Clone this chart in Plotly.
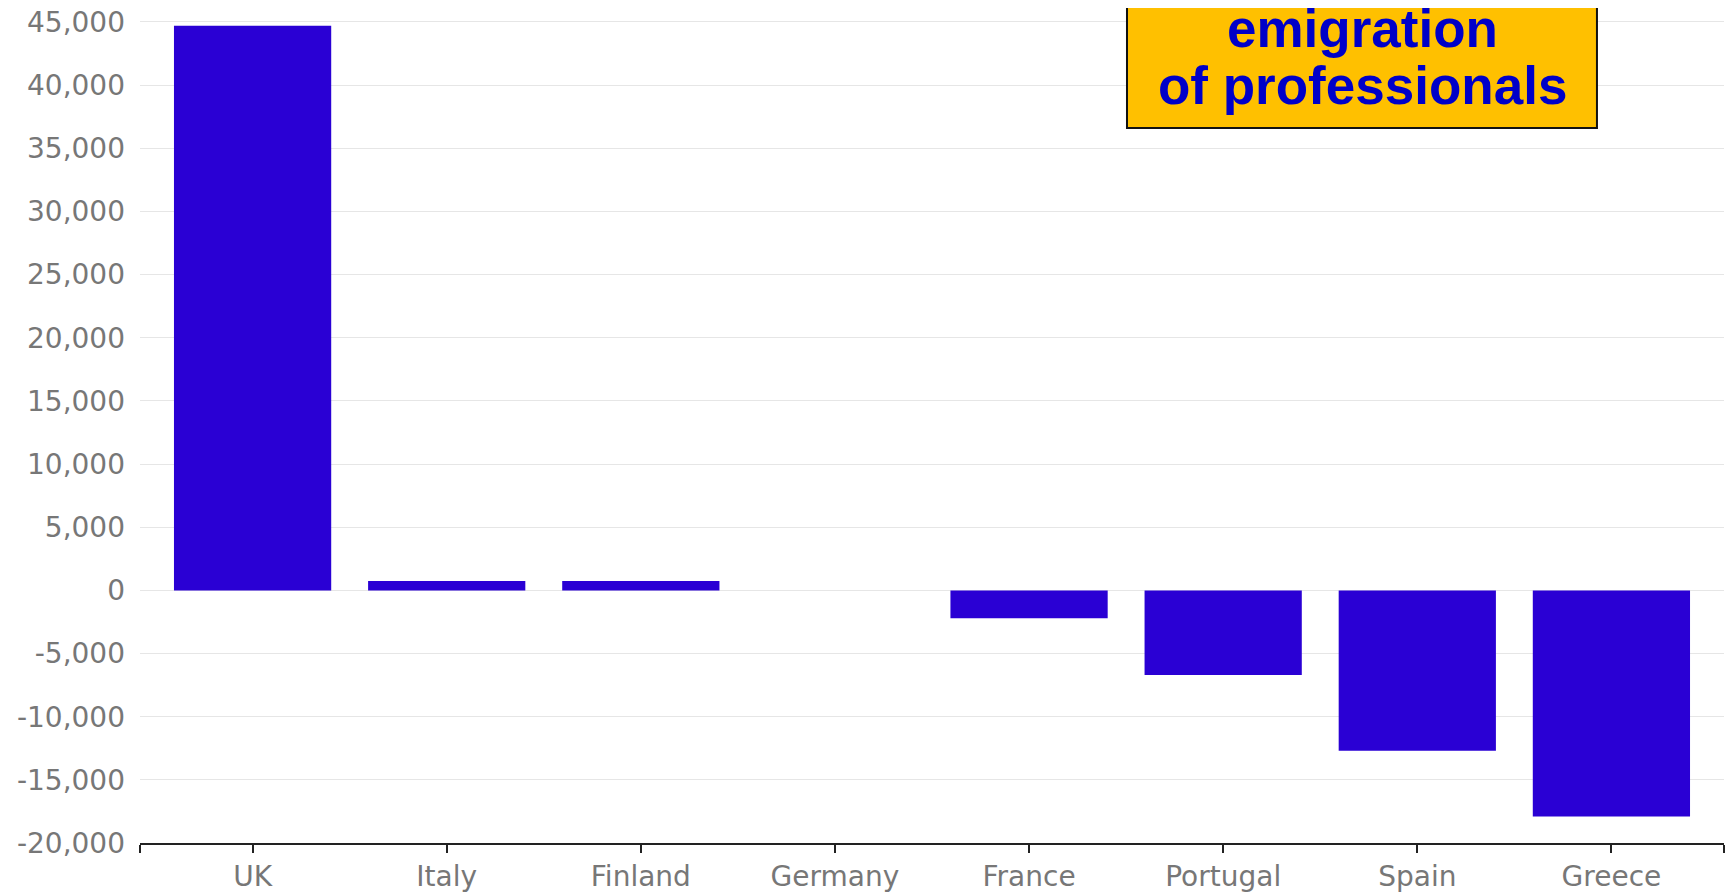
import plotly.graph_objects as go

countries = ["UK", "Italy", "Finland", "Germany", "France", "Portugal", "Spain", "Greece"]
values = [44700, 750, 750, 0, -2200, -6700, -12700, -17900]
y_ticks = [-20000, -15000, -10000, -5000, 0, 5000, 10000, 15000, 20000, 25000,
           30000, 35000, 40000, 45000]
y_tick_text = [f"{v:,}" for v in y_ticks]
box_lines = ["emigration", "of professionals"]

idx = list(range(len(countries)))
pad = 0.58
x_lo, x_hi = -pad, len(countries) - 1 + pad

fig = go.Figure(go.Bar(
    x=idx, y=values, width=0.81,
    marker=dict(color="#2A00D4", line=dict(width=0)),
))

fig.update_layout(
    width=1725, height=884,
    margin=dict(l=132, r=9, t=0, b=49),
    plot_bgcolor="white", paper_bgcolor="white",
    font=dict(family="DejaVu Sans", size=28, color="#777777"),
    showlegend=False,
    xaxis=dict(
        range=[x_lo, x_hi],
        tickmode="array",
        tickvals=[x_lo] + idx + [x_hi],
        ticktext=[""] + countries + [""],
        ticks="outside", ticklen=8, tickwidth=1.5, tickcolor="#222222",
        showline=True, linecolor="#222222", linewidth=1.5,
        showgrid=False, zeroline=False, automargin=False,
        ticklabelstandoff=0, ticklabeloverflow="allow",
        tickfont=dict(size=28, color="#777777"),
    ),
    yaxis=dict(
        range=[-20000, 46108],
        tickmode="array", tickvals=y_ticks, ticktext=y_tick_text,
        showgrid=True, gridcolor="#E6E6E6", gridwidth=1,
        zeroline=False, showline=False, ticks="", automargin=False,
        ticklabelstandoff=14, ticklabeloverflow="allow",
        tickfont=dict(size=28, color="#777777"),
    ),
)

# label box, open at the top (it runs off the top of the chart)
bx0, bx1, by0, by1 = 0.6231, 0.9198, 0.8563, 1.02
fig.add_shape(type="path", xref="paper", yref="paper",
              path=f"M {bx0},{by1} L {bx0},{by0} L {bx1},{by0} L {bx1},{by1}",
              fillcolor="#FFC000", line=dict(color="#111111", width=2), layer="above")

for txt, yy in zip(box_lines, [0.9760, 0.9066]):
    fig.add_annotation(text=f"<b>{txt}</b>", xref="paper", yref="paper",
                       x=0.7715, y=yy, xanchor="center", yanchor="middle",
                       showarrow=False,
                       font=dict(family="Liberation Sans", size=53, color="#0000C8"))

fig.write_html("out.html")
